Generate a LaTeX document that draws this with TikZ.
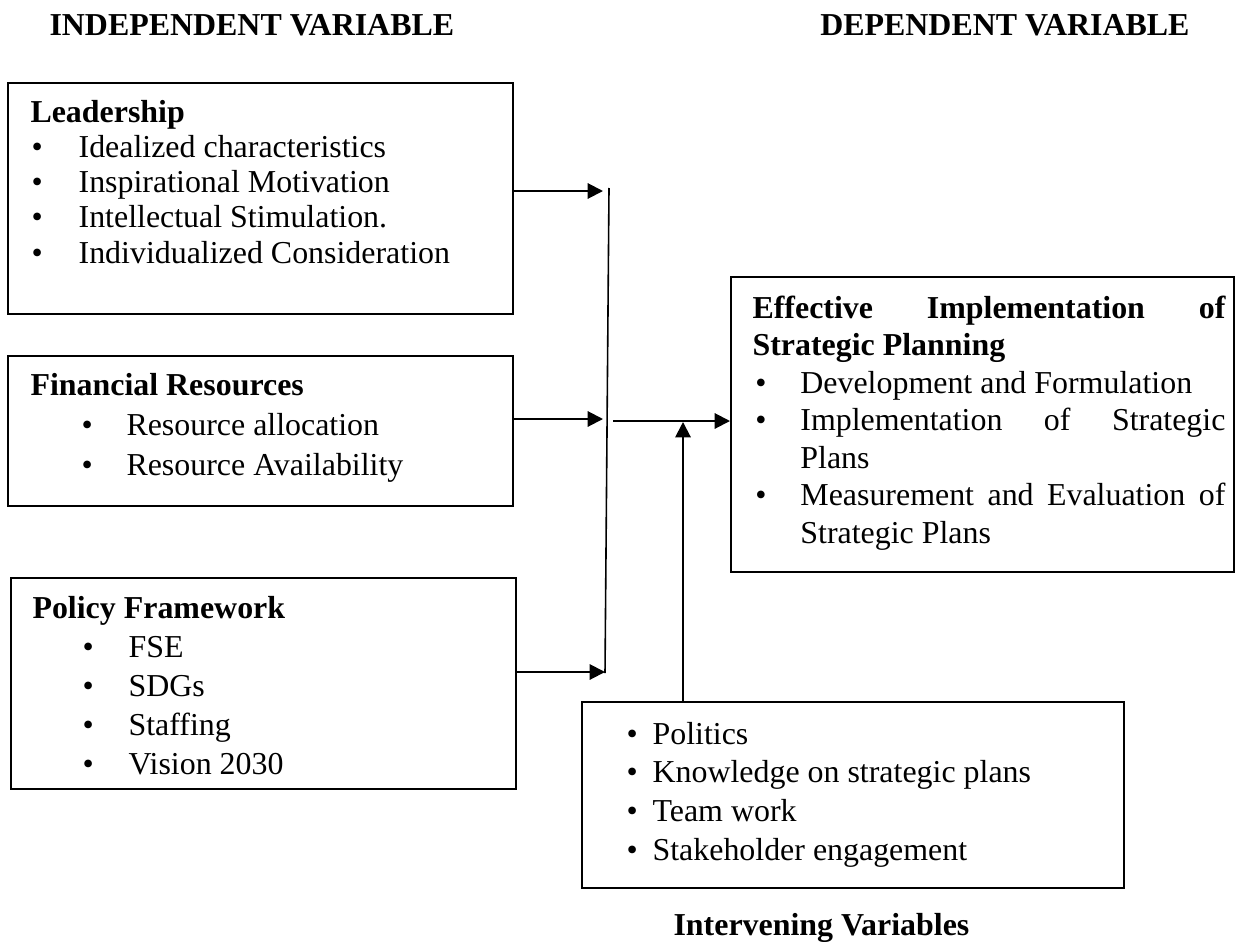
\documentclass[tikz,border=0pt]{standalone}
\usepackage{fontspec}
\setmainfont{Liberation Serif}
\usetikzlibrary{arrows.meta,fit}
\newcommand{\bul}[2]{\hspace*{#1}\makebox[#2][l]{\textbullet}}

\begin{document}
\begin{tikzpicture}[>={Triangle[length=5.8pt,width=5.8pt]}, x=0.376pt, y=-0.376pt]
	\tikzset{box/.style={draw, line width=0.75pt, inner sep=0pt}}
	% base of a text node = base of its last line
	\tikzset{txt/.style={anchor=base west, inner sep=0pt, align=left, font=\fontsize{12}{#1}\selectfont}}
	\tikzset{head/.style={anchor=base west, inner sep=0pt, font=\fontsize{12}{14}\selectfont\bfseries}}
	\useasboundingbox (0,0) rectangle (1235,941);

	\node[head] (indep) at (49,36) {INDEPENDENT VARIABLE};
	\node[head, anchor=base east] (dep) at (1190,36) {DEPENDENT VARIABLE};

	% independent variables
	\node[box, fit={(8,83) (513,314)}] (lead) {};
	\node[txt=13.2pt] (leadtxt) at (30,263) {\textbf{Leadership}\\
		\bul{0.4pt}{17.7pt}Idealized characteristics\\
		\bul{0.4pt}{17.7pt}Inspirational Motivation\\
		\bul{0.4pt}{17.7pt}Intellectual Stimulation.\\
		\bul{0.4pt}{17.7pt}Individualized Consideration};

	\node[box, fit={(8,356) (513,506)}] (fin) {};
	\node[txt=15pt] (fintxt) at (30,475) {\textbf{Financial Resources}\\
		\bul{19.2pt}{16.9pt}Resource allocation\\
		\bul{19.2pt}{16.9pt}Resource Availability};

	\node[box, fit={(11,578) (516,789)}] (pol) {};
	\node[txt=14.6pt] (poltxt) at (32,774) {\textbf{Policy Framework}\\
		\bul{18.8pt}{17.3pt}FSE\\
		\bul{18.8pt}{17.3pt}SDGs\\
		\bul{18.8pt}{17.3pt}Staffing\\
		\bul{18.8pt}{17.3pt}Vision 2030};

	% dependent variable
	\node[box, fit={(731,277) (1234,572)}] (eff) {};
	\node[txt=14.1pt] (efftxt) at (752,543) {\textbf{\makebox[177.8pt][s]{Effective Implementation of}}\\
		\textbf{Strategic Planning}\\
		\bul{1.1pt}{16.9pt}Development and Formulation\\
		\bul{1.1pt}{16.9pt}\makebox[159.8pt][s]{Implementation of Strategic}\\
		\hspace*{18pt}Plans\\
		\bul{1.1pt}{16.9pt}\makebox[159.8pt][s]{Measurement and Evaluation of}\\
		\hspace*{18pt}Strategic Plans};

	% intervening variables
	\node[box, fit={(582,702) (1124,888)}] (inter) {};
	\node[txt=14.5pt] (intertxt) at (626,860) {\bul{0pt}{9.8pt}Politics\\
		\bul{0pt}{9.8pt}Knowledge on strategic plans\\
		\bul{0pt}{9.8pt}Team work\\
		\bul{0pt}{9.8pt}Stakeholder engagement};
	\node[head] (interlab) at (673,935) {Intervening Variables};

	% connectors
	\coordinate (jt) at (609,188);
	\coordinate (jb) at (605,673);
	\draw[line width=0.6pt] (jt) -- (jb);
	\coordinate (a1) at (603,191);
	\coordinate (a2) at (603,419);
	\coordinate (a3) at (605,672);
	\draw[->, line width=0.75pt] (a1 -| lead.east) -- (a1);
	\draw[->, line width=0.75pt] (a2 -| fin.east) -- (a2);
	\draw[->, line width=0.75pt] (a3 -| pol.east) -- (a3);
	\coordinate (m) at (613,421);
	\draw[->, line width=0.75pt] (m) -- (m -| eff.west);
	\coordinate (t) at (683,422);
	\draw[->, line width=0.75pt] (t |- inter.north) -- (t);
\end{tikzpicture}
\end{document}
